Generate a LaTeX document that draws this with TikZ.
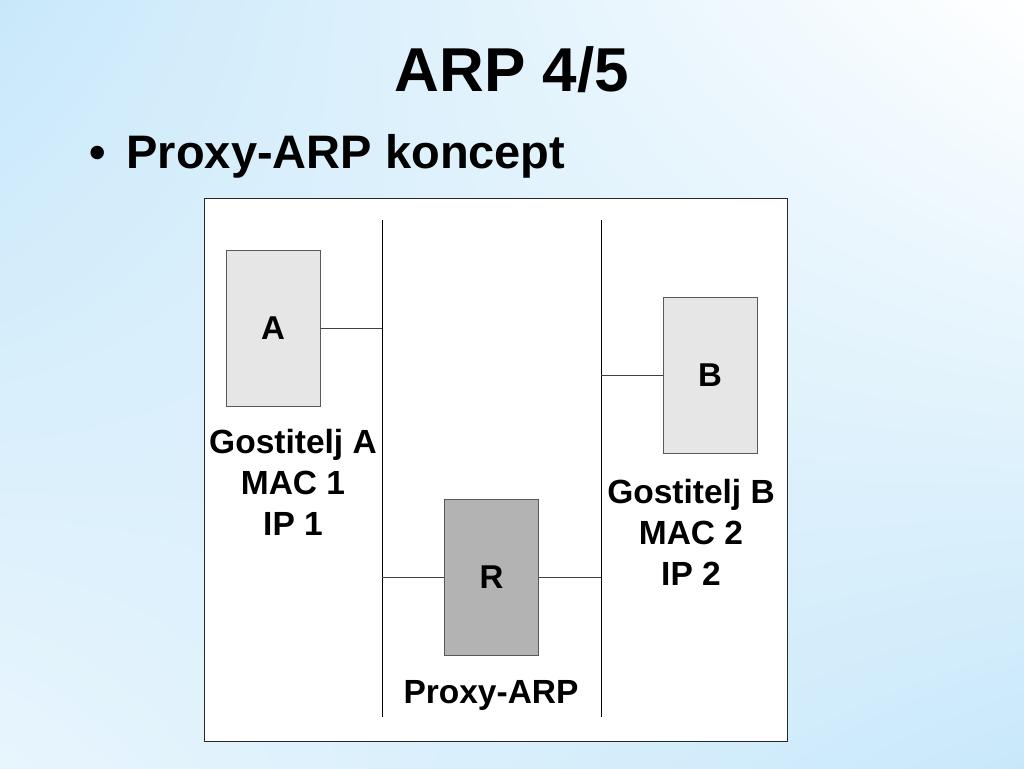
\documentclass[tikz,border=0pt]{standalone}
\usepackage{fontspec}
\setmainfont{Liberation Sans}
\usetikzlibrary{shadings}
\definecolor{bgblue}{RGB}{200,232,250}
\definecolor{bglight}{RGB}{232,245,253}
\definecolor{hostgray}{RGB}{230,230,230}
\definecolor{routergray}{RGB}{179,179,179}
\definecolor{framegray}{RGB}{40,40,40}
\begin{document}
\begin{tikzpicture}[x=1pt,y=-1pt,
  hostbox/.style={draw=black!65,line width=1pt,fill=hostgray,minimum width=94pt,minimum height=156pt,inner sep=0pt,font=\fontsize{33}{33}\selectfont\bfseries},
  routerbox/.style={hostbox,fill=routergray},
  info/.style={align=center,font=\fontsize{33.5}{41}\selectfont\bfseries,inner sep=0pt},
  wire/.style={draw=black!75,line width=1pt},
  bus/.style={draw=black,line width=1pt}]
\useasboundingbox (0,0) rectangle (1024,768);
\shade[upper left=bgblue,upper right=white,lower left=bglight,lower right=bgblue] (0,0) rectangle (1024,768);
\node[font=\fontsize{62}{62}\selectfont\bfseries,inner sep=0pt] (title) at (512,70) {ARP 4/5};
\node[font=\fontsize{47}{47}\selectfont\bfseries,inner sep=0pt,anchor=west] (bullet) at (89,156) {\textbullet\hspace{21pt}Proxy-ARP koncept};
\node[draw=framegray,line width=1.2pt,fill=white,minimum width=583pt,minimum height=543pt,anchor=north west,inner sep=0pt] (frame) at (204,198) {};
\coordinate (l1top) at (382,220);
\coordinate (l1bot) at (382,717);
\coordinate (l2top) at (601,220);
\coordinate (l2bot) at (601,717);
\draw[bus] (l1top) -- (l1bot);
\draw[bus] (l2top) -- (l2bot);
\node[hostbox] (A) at (273,328) {A};
\node[hostbox] (B) at (710,375) {B};
\node[routerbox] (R) at (491.5,577.5) {R};
\draw[wire] (A.east) -- (A.east -| l1top);
\draw[wire] (B.west) -- (B.west -| l2top);
\draw[wire] (R.west) -- (R.west -| l1top);
\draw[wire] (R.east) -- (R.east -| l2top);
\node[info,anchor=north] (infoA) at (293,429) {Gostitelj A\\MAC 1\\IP 1};
\node[info,anchor=north] (infoB) at (691,479) {Gostitelj B\\MAC 2\\IP 2};
\node[info] (proxy) at (491,695) {Proxy-ARP};
\end{tikzpicture}
\end{document}
